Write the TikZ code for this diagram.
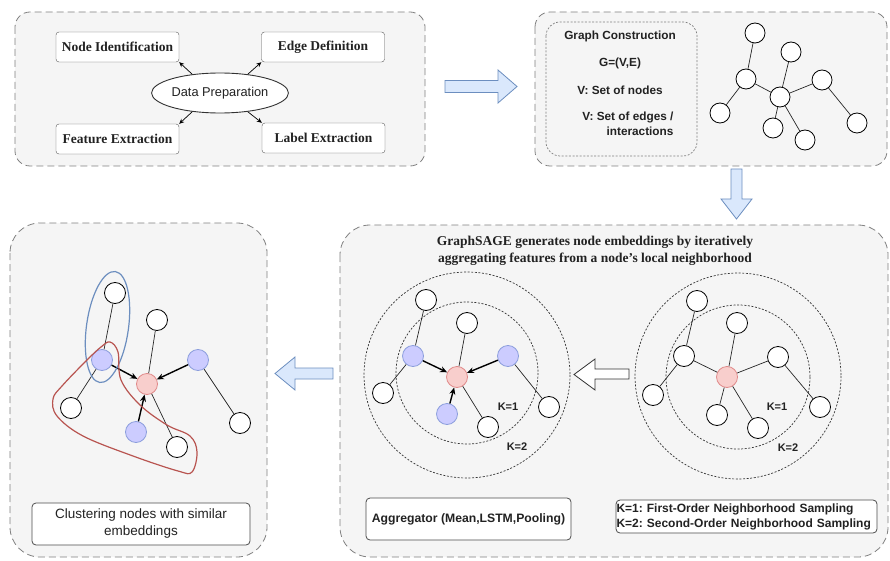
\documentclass[tikz,border=0pt]{standalone}
\usepackage{fontspec}
\setmainfont{Liberation Serif}
\setsansfont{Liberation Sans}
\usetikzlibrary{arrows.meta,shapes.geometric}
\definecolor{panelfill}{HTML}{F5F5F5}
\definecolor{panelline}{HTML}{808080}
\definecolor{barfill}{HTML}{DAE8FC}
\definecolor{barline}{HTML}{6C8EBF}
\definecolor{bluefill}{HTML}{CCCCFF}
\definecolor{blueline}{HTML}{8C9EDC}
\definecolor{redfill}{HTML}{F8CECC}
\definecolor{redline}{HTML}{E08A8A}
\definecolor{clusterblue}{HTML}{6C8EBF}
\definecolor{clusterred}{HTML}{B85450}
\definecolor{txt}{HTML}{222222}
\frenchspacing
\tikzset{
  panel/.style={draw=panelline, dash pattern=on 7pt off 4pt, fill=panelfill, line width=0.8pt},
  tbox/.style={draw=black!65, rounded corners=3pt, fill=white, text=txt,
    font=\bfseries\fontsize{13.5}{15}\selectfont, minimum width=123pt, minimum height=30pt, inner sep=0pt},
  gnode/.style={circle, draw=black, fill=white, minimum size=20pt, inner sep=0pt, line width=0.8pt},
  bnode/.style={circle, draw=blueline, fill=bluefill, minimum size=21pt, inner sep=0pt, line width=0.8pt},
  rnode/.style={circle, draw=redline, fill=redfill, minimum size=21pt, inner sep=0pt, line width=0.8pt},
  gedge/.style={draw=black!85, line width=0.7pt},
  aggarrow/.style={-{Stealth[length=7pt,width=6pt]}, line width=1.4pt},
  smallarrow/.style={-{Stealth[length=5pt,width=4.5pt]}, line width=0.7pt},
  blockarrow/.style={draw=barline, fill=barfill, line width=0.8pt, line join=miter},
  ring/.style={draw=black!80, dash pattern=on 2pt off 1.6pt, line width=0.7pt},
  sbold/.style={font=\sffamily\bfseries\fontsize{11.8}{15}\selectfont, text=txt},
  kbold/.style={font=\sffamily\bfseries\fontsize{11}{13}\selectfont, text=txt},
  whitebox/.style={draw=black!70, rounded corners=4pt, fill=white, line width=0.8pt, text=txt}
}
\begin{document}
\begin{tikzpicture}[x=1pt,y=-1pt]
\useasboundingbox (0,0) rectangle (890,561);

% ---------- panels ----------
\draw[panel, rounded corners=15pt] (15,12) rectangle (425,166);
\draw[panel, rounded corners=15pt] (535,12) rectangle (887,166);
\draw[panel, rounded corners=30pt] (10,223) rectangle (267,557);
\draw[panel, rounded corners=30pt] (340,225) rectangle (888,557);

% ---------- panel 1: data preparation ----------
\node[tbox] (ni) at (117.5,47) {Node Identification};
\node[tbox] (ed) at (323,47) {Edge Definition};
\node[tbox] (fe) at (117.5,139) {Feature Extraction};
\node[tbox] (le) at (323.5,138) {Label Extraction};
\node[ellipse, draw=black!80, fill=white, line width=0.9pt, minimum width=125pt, minimum height=40pt, inner sep=0pt,
      font=\sffamily\fontsize{12.8}{14}\selectfont, text=txt] (dp) at (220,93) {Data Preparation};
\draw[smallarrow] (dp.146) -- (ni.south east);
\draw[smallarrow] (dp.34) -- (ed.south west);
\draw[smallarrow] (dp.214) -- (fe.north east);
\draw[smallarrow] (dp.326) -- (le.north west);

% ---------- arrow 1 ----------
\draw[blockarrow] (445,80.5) -- (498,80.5) -- (498,70) -- (517,86.5) -- (498,103) -- (498,92.5) -- (445,92.5) -- cycle;

% ---------- panel 2: graph construction ----------
\draw[draw=black!50, dash pattern=on 2pt off 1.6pt, rounded corners=14pt, line width=0.7pt] (546,22) rectangle (697,156);
\node[sbold] (gc) at (620,36) {Graph Construction};
\node[sbold] (ge) at (620,63) {G=(V,E)};
\node[sbold] (vn) at (620,90) {V: Set of nodes};
\node[sbold, align=right, anchor=north east] (vs) at (677,108) {V: Set of edges /\\interactions};

\node[gnode] (n1) at (755,33) {};
\node[gnode] (n2) at (791,52) {};
\node[gnode] (n3) at (746,79) {};
\node[gnode] (n4) at (780,97) {};
\node[gnode] (n5) at (822,80) {};
\node[gnode] (n6) at (720,113) {};
\node[gnode] (n7) at (773,128) {};
\node[gnode] (n8) at (805,140) {};
\node[gnode] (n9) at (857,123) {};
\draw[gedge] (n1) -- (n3) (n3) -- (n6) (n3) -- (n4) (n2) -- (n4) (n4) -- (n5)
             (n5) -- (n9) (n4) -- (n7) (n4) -- (n8);

% ---------- arrow 2 (down) ----------
\draw[blockarrow] (731,169) -- (742,169) -- (742,199) -- (752,199) -- (736.5,219) -- (721,199) -- (731,199) -- cycle;

% ---------- panel 4: GraphSAGE ----------
\node[align=center, font=\bfseries\fontsize{13.5}{17}\selectfont, text=txt] (title) at (595,251)
  {GraphSAGE generates node embeddings by iteratively\\aggregating features from a node’s local neighborhood};

% left sampling graph
\draw[ring] (467,375) circle[radius=103];
\draw[ring] (467,373) circle[radius=71];
\node[gnode, minimum size=21pt] (a1) at (426,300) {};
\node[gnode, minimum size=21pt] (a2) at (467,323) {};
\node[bnode] (ab1) at (413,356) {};
\node[bnode] (ab2) at (508,356) {};
\node[rnode] (ar) at (457,377) {};
\node[gnode, minimum size=21pt] (a3) at (383,393) {};
\node[bnode] (ab3) at (447,414) {};
\node[gnode, minimum size=21pt] (a4) at (488,427) {};
\node[gnode, minimum size=21pt] (a5) at (549,407) {};
\draw[gedge] (a1) -- (ab1) (ab1) -- (a3) (a2) -- (ar) (ab2) -- (a5) (ar) -- (a4);
\draw[aggarrow] (ab1) -- (ar);
\draw[aggarrow] (ab2) -- (ar);
\draw[aggarrow] (ab3) -- (ar);
\node[kbold] (k1a) at (508,407) {K=1};
\node[kbold] (k2a) at (517,447) {K=2};

% hollow arrow
\draw[draw=black!80, fill=white, line width=0.8pt, line join=miter]
  (629,369) -- (595,369) -- (595,359) -- (574,374.5) -- (595,390) -- (595,379) -- (629,379) -- cycle;

% right sampling graph
\draw[ring] (738,376) circle[radius=103];
\draw[ring] (738,377) circle[radius=72];
\node[gnode, minimum size=21pt] (c1) at (697,301) {};
\node[gnode, minimum size=21pt] (c2) at (737,323) {};
\node[gnode, minimum size=21pt] (c3) at (684,356) {};
\node[gnode, minimum size=21pt] (c4) at (778,357) {};
\node[rnode] (cr) at (727,377) {};
\node[gnode, minimum size=21pt] (c5) at (653,395) {};
\node[gnode, minimum size=21pt] (c6) at (717,415) {};
\node[gnode, minimum size=21pt] (c7) at (758,428) {};
\node[gnode, minimum size=21pt] (c8) at (820,407) {};
\draw[gedge] (c1) -- (c3) (c3) -- (c5) (c3) -- (cr) (c2) -- (cr) (cr) -- (c4)
             (c4) -- (c8) (cr) -- (c6) (cr) -- (c7);
\node[kbold] (k1b) at (777,407) {K=1};
\node[kbold] (k2b) at (788,448) {K=2};

\node[whitebox, minimum width=205pt, minimum height=42pt, inner sep=0pt,
      font=\sffamily\bfseries\fontsize{12.2}{14}\selectfont] (agg) at (468.5,519) {Aggregator (Mean,LSTM,Pooling)};
\node[whitebox, text width=260pt, minimum height=33pt, inner sep=0.5pt, align=left,
      font=\sffamily\bfseries\fontsize{12}{15}\selectfont] (leg) at (746.5,516.5)
  {K=1: First-Order Neighborhood Sampling\\K=2: Second-Order Neighborhood Sampling};

% ---------- arrow 3 (left) ----------
\draw[blockarrow] (333,368) -- (295,368) -- (295,357) -- (275,373.5) -- (295,390) -- (295,379) -- (333,379) -- cycle;

% ---------- panel 3: clustering ----------
\node[gnode, minimum size=21pt] (w1) at (115,293) {};
\node[gnode, minimum size=21pt] (w2) at (157,320) {};
\node[bnode] (b1) at (102,360) {};
\node[bnode] (b2) at (198,360) {};
\node[rnode] (r) at (147,384) {};
\node[gnode, minimum size=21pt] (w3) at (71,408) {};
\node[bnode] (b3) at (136,432) {};
\node[gnode, minimum size=21pt] (w4) at (177,447) {};
\node[gnode, minimum size=21pt] (w5) at (240,423) {};
\draw[gedge] (w1) -- (b1) (b1) -- (w3) (w2) -- (r) (b2) -- (w5) (r) -- (w4);
\draw[aggarrow] (b1) -- (r);
\draw[aggarrow] (b2) -- (r);
\draw[aggarrow] (b3) -- (r);
\draw[clusterblue, line width=1.2pt, rotate around={-8:(107.5,327)}] (107.5,327) ellipse [x radius=21, y radius=56];
\draw[clusterred, line width=1.2pt] plot[smooth cycle, tension=0.6] coordinates {
  (110,342) (118,352) (121,380) (140,405) (167,425) (190,436) (197,452) (192,472)
  (178,471) (133,456) (83,436) (57,416) (53,399) (62,386) (87,360) (101,347)};

\node[whitebox, minimum width=218pt, minimum height=42pt, inner sep=0pt, align=center,
      font=\sffamily\fontsize{13.5}{17}\selectfont] (cl) at (141,524) {Clustering nodes with similar\\embeddings};

\end{tikzpicture}
\end{document}
